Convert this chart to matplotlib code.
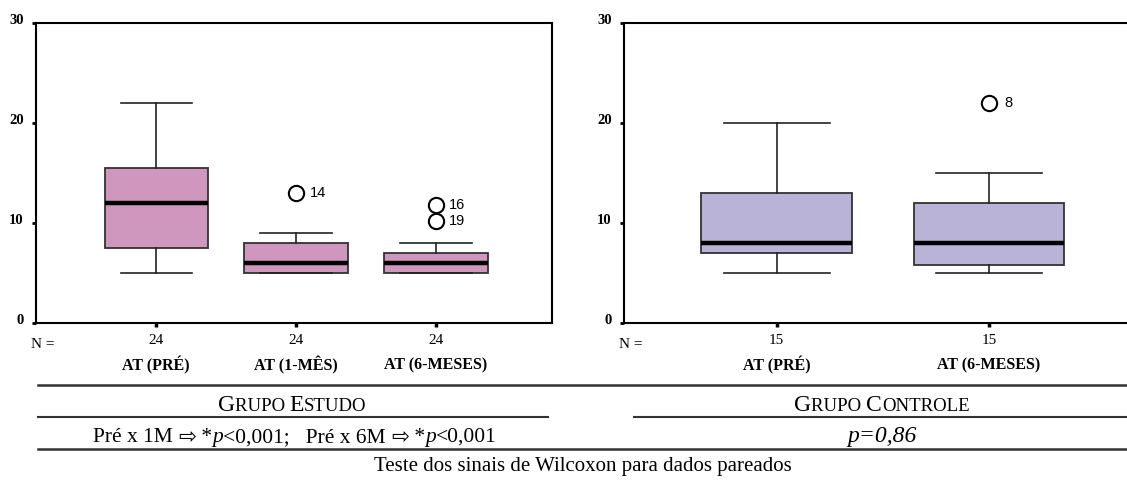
import matplotlib

matplotlib.use("Agg")
import matplotlib.pyplot as plt
import matplotlib.transforms as mtransforms
from matplotlib.lines import Line2D

# --- data ---
study_labels = ["AT (PRÉ)", "AT (1-MÊS)", "AT (6-MESES)"]
study_n = [24, 24, 24]
study_low = [5, 5, 5]
study_q1 = [7.5, 5, 5]
study_med = [12, 6, 6]
study_q3 = [15.5, 8, 7]
study_high = [22, 9, 8]
study_fliers = [[], [13], [11.8, 10.2]]
study_flier_ids = [[], ["14"], ["16", "19"]]

ctrl_labels = ["AT (PRÉ)", "AT (6-MESES)"]
ctrl_n = [15, 15]
ctrl_low = [5, 5]
ctrl_q1 = [7, 5.8]
ctrl_med = [8, 8]
ctrl_q3 = [13, 12]
ctrl_high = [20, 15]
ctrl_fliers = [[], [22]]
ctrl_flier_ids = [[], ["8"]]

yticks = [0, 10, 20, 30]

SERIF = ["Liberation Serif", "DejaVu Serif"]
plt.rcParams["font.family"] = SERIF

W, H = 1127, 480
fig = plt.figure(figsize=(W / 100, H / 100), dpi=100)


def make_stats(low, q1, med, q3, high, fliers):
    return [
        dict(whislo=a, q1=b, med=c, q3=d, whishi=e, fliers=f)
        for a, b, c, d, e, f in zip(low, q1, med, q3, high, fliers)
    ]


def draw_panel(rect, xlim, stats, labels, counts, flier_ids, color, width, capw, lab_dx, hide_right=False):
    ax = fig.add_axes(rect)
    pos = list(range(1, len(stats) + 1))
    ax.bxp(
        stats,
        positions=pos,
        widths=width,
        capwidths=capw,
        patch_artist=True,
        boxprops=dict(facecolor=color, edgecolor="#333333", linewidth=1.3),
        medianprops=dict(color="black", linewidth=3.2),
        whiskerprops=dict(color="#222222", linewidth=1.2),
        capprops=dict(color="#222222", linewidth=1.2),
        flierprops=dict(marker="o", markerfacecolor="white", markeredgecolor="black",
                        markersize=11, markeredgewidth=1.5),
    )
    for p, vals, ids in zip(pos, [s["fliers"] for s in stats], flier_ids):
        for v, t in zip(vals, ids):
            ax.text(p + lab_dx, v, t, fontsize=10.5, family="Liberation Sans",
                    va="center", ha="left")
    ax.set_xlim(*xlim)
    ax.set_ylim(0, 30)
    ax.set_yticks(yticks)
    ax.set_yticklabels([str(t) for t in yticks], fontsize=10.5, fontweight="bold")
    ax.tick_params(axis="y", length=3, width=2, pad=6)
    up = mtransforms.ScaledTranslation(0, 4 / 100, fig.dpi_scale_trans)
    for lab in ax.get_yticklabels():
        lab.set_transform(lab.get_transform() + up)
    ax.set_xticks(pos)
    ax.set_xticklabels([str(n) for n in counts], fontsize=11)
    ax.tick_params(axis="x", length=3, width=2.5, pad=5)
    for s in ax.spines.values():
        s.set_linewidth(1.5)
    if hide_right:
        ax.spines["right"].set_visible(False)
    ax.text(-0.01, -0.07, "N =", transform=ax.transAxes, fontsize=11, ha="left", va="center")
    for p, lab in zip(pos, labels):
        ax.text(p, -0.14, lab, transform=ax.get_xaxis_transform(), fontsize=11.5,
                fontweight="bold", ha="center", va="center")
    return ax


draw_panel([36 / W, 1 - 323 / H, 516 / W, 300 / H], (0.14, 3.83),
           make_stats(study_low, study_q1, study_med, study_q3, study_high, study_fliers),
           study_labels, study_n, study_flier_ids, "#CF96BE", 0.74, 0.51, 0.095)

draw_panel([624 / W, 1 - 323 / H, 505 / W, 300 / H], (0.28, 2.66),
           make_stats(ctrl_low, ctrl_q1, ctrl_med, ctrl_q3, ctrl_high, ctrl_fliers),
           ctrl_labels, ctrl_n, ctrl_flier_ids, "#B9B3D7", 0.71, 0.5, 0.075, hide_right=True)


# --- summary table under the plots ---
def hline(x0, x1, ypx, lw=1.2):
    y = 1 - ypx / H
    fig.add_artist(Line2D([x0 / W, x1 / W], [y, y], color="#333333", linewidth=lw))


hline(38, 1127, 385, 1.8)
hline(38, 548, 417, 1.5)
hline(634, 1127, 417, 1.5)
hline(38, 1127, 449, 1.8)


def rich_line(xc, ypx, segments):
    # lay out text pieces with different styles one after another, centred on xc
    y = 1 - ypx / H
    texts = [fig.text(0, y, s, ha="left", va="baseline", **kw) for s, kw in segments]
    r = fig.canvas.get_renderer()
    widths = [t.get_window_extent(r).width for t in texts]
    x = xc - sum(widths) / 2
    for t, w in zip(texts, widths):
        t.set_position((x / W, y))
        x += w


def small_caps(words, big, small):
    segs = []
    for i, w in enumerate(words):
        segs.append((w[0], dict(fontsize=big)))
        segs.append((w[1:] + (" " if i < len(words) - 1 else ""), dict(fontsize=small)))
    return segs


rich_line(292, 411, small_caps(["GRUPO", "ESTUDO"], 17, 13.5))
rich_line(882, 411, small_caps(["GRUPO", "CONTROLE"], 17, 13.5))

RS = 15.5
ARROW = dict(fontsize=RS * 1.0, family="DejaVu Sans")
rich_line(295, 442, [
    ("Pré x 1M ", dict(fontsize=RS)),
    ("⇨", ARROW),
    (" *", dict(fontsize=RS)),
    ("p", dict(fontsize=RS, style="italic")),
    ("<0,001;   Pré x 6M ", dict(fontsize=RS)),
    ("⇨", ARROW),
    (" *", dict(fontsize=RS)),
    ("p", dict(fontsize=RS, style="italic")),
    ("<0,001", dict(fontsize=RS)),
])
rich_line(882, 442, [("p=0,86", dict(fontsize=17, style="italic"))])
rich_line(583, 471, [("Teste dos sinais de Wilcoxon para dados pareados", dict(fontsize=15))])

fig.savefig("out.png", dpi=100)
